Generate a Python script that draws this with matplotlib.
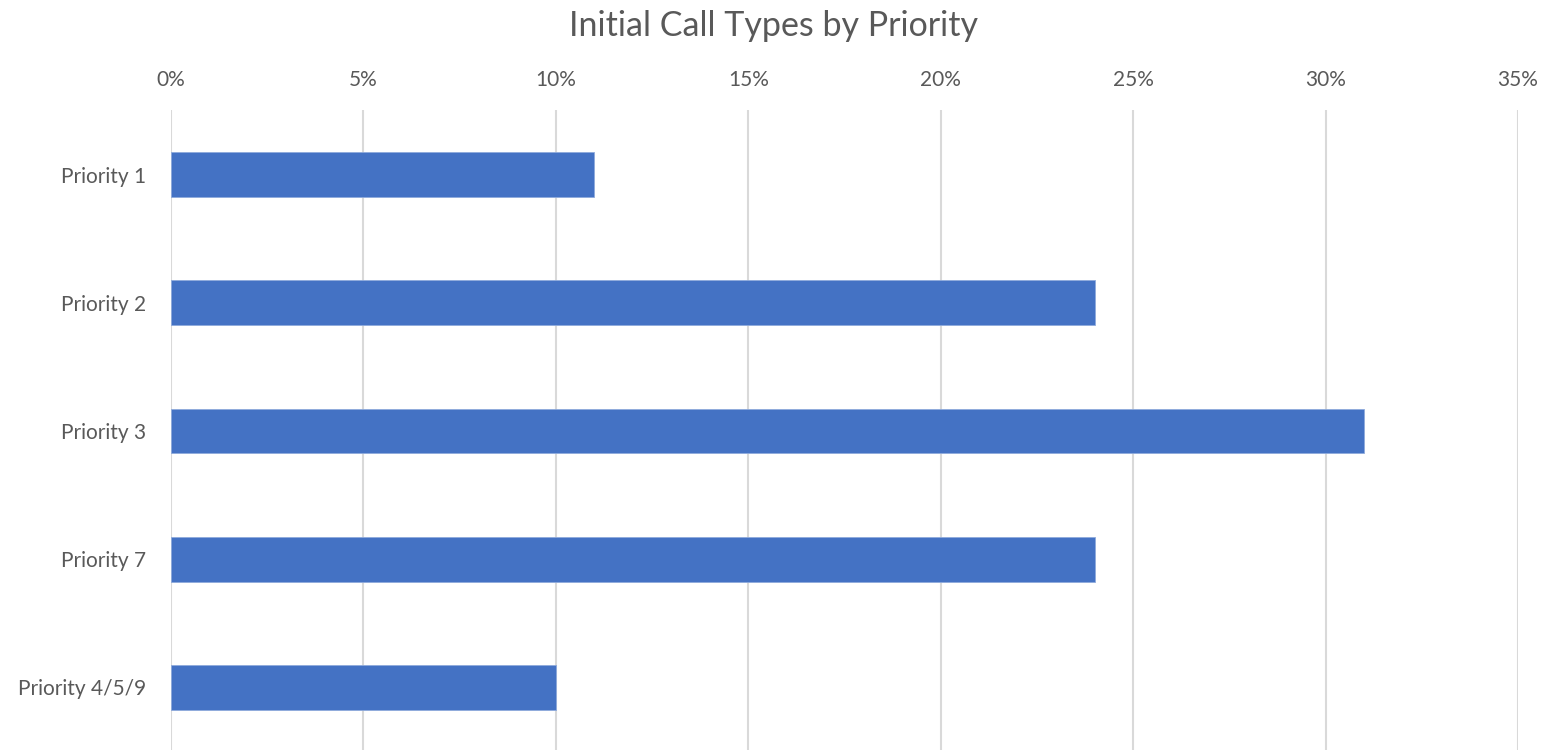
import matplotlib.pyplot as plt
from matplotlib.ticker import PercentFormatter

# Data
categories = ["Priority 1", "Priority 2", "Priority 3", "Priority 7", "Priority 4/5/9"]
shares = [11.0, 24.0, 31.0, 24.0, 10.0]
xticks = [0, 5, 10, 15, 20, 25, 30, 35]

plt.rcParams["font.family"] = ["Lato", "DejaVu Sans"]
text_color = "#595959"

fig = plt.figure(figsize=(15.47, 7.5), dpi=100)
ax = fig.add_axes([171 / 1547, -0.0021, (1518 - 171) / 1547, 0.8549])

ax.barh(categories, shares, height=0.35, color="#4472C4", edgecolor="#8FAADC", linewidth=0.6, zorder=3)

ax.set_xlim(0, 35)
ax.set_ylim(4.5, -0.5)
ax.set_xticks(xticks)
ax.xaxis.set_major_formatter(PercentFormatter(decimals=0))
ax.xaxis.tick_top()
ax.tick_params(axis="x", length=0, pad=15, labelsize=15, labelcolor=text_color)
ax.tick_params(axis="y", length=0, pad=18, labelsize=15, labelcolor=text_color)
ax.grid(axis="x", color="#D9D9D9", linewidth=1.5, zorder=0)
for side in ax.spines.values():
    side.set_visible(False)

fig.text(0.5, 1 - 26 / 750, "Initial Call Types by Priority", ha="center", va="center",
         fontsize=24.5, color=text_color)

plt.savefig("out.png", dpi=100)
